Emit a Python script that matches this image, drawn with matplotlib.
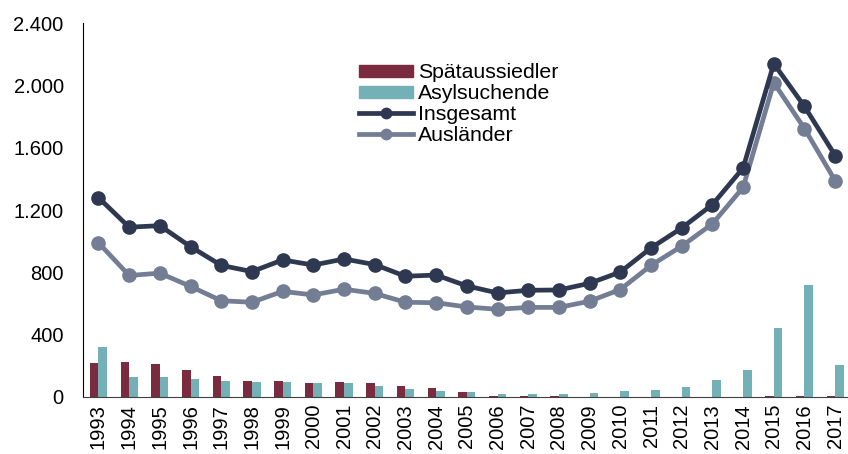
import numpy as np
import matplotlib.pyplot as plt
from matplotlib.patches import Patch
from matplotlib.lines import Line2D

plt.rcParams['font.family'] = ['Liberation Sans', 'DejaVu Sans']

years = [str(y) for y in range(1993, 2018)]
spaetaussiedler = [218, 222, 212, 175, 134, 103, 103, 92, 98, 91, 73, 59, 35,
                   8, 6, 4, 3, 2, 2, 2, 2, 2, 4, 6, 7]
asylsuchende = [322, 127, 128, 116, 104, 99, 95, 88, 88, 71, 50, 36, 29,
                21, 19, 22, 28, 41, 45, 64, 110, 173, 442, 722, 203]
insgesamt = [1280, 1090, 1100, 965, 845, 805, 880, 847, 886, 850, 775, 783, 713,
             668, 685, 687, 730, 802, 957, 1085, 1235, 1470, 2140, 1865, 1550]
auslaender = [990, 780, 795, 710, 618, 608, 678, 655, 692, 665, 608, 605, 578,
              563, 575, 575, 615, 690, 845, 968, 1112, 1345, 2018, 1723, 1388]

c_red = '#7b2b40'
c_teal = '#73b1b7'
c_navy = '#2e3850'
c_grey = '#737d93'

fig = plt.figure(figsize=(8.48, 4.54), dpi=100)
ax = fig.add_axes([0.098, 0.1256, 0.905, 0.8234])

x = np.arange(len(years))
w = 0.28
ax.bar(x - w / 2, spaetaussiedler, w, color=c_red, zorder=2)
ax.bar(x + w / 2, asylsuchende, w, color=c_teal, zorder=2)
ax.plot(x, insgesamt, color=c_navy, lw=3.4, marker='o', ms=9.5, zorder=4)
ax.plot(x, auslaender, color=c_grey, lw=3.4, marker='o', ms=9.5, zorder=3)

ax.set_xlim(-0.5, len(years) - 0.5)
ax.set_ylim(0, 2400)
ax.set_yticks(range(0, 2401, 400))
ax.set_yticklabels(['0', '400', '800', '1.200', '1.600', '2.000', '2.400'], fontsize=14.5)
ax.set_xticks(x)
ax.set_xticklabels(years, rotation=90, fontsize=14.5)
ax.tick_params(axis='y', length=0, pad=14)
ax.tick_params(axis='x', length=0, pad=5)

for s in ['top', 'right']:
    ax.spines[s].set_visible(False)
ax.spines['left'].set_color('black')
ax.spines['bottom'].set_color('#404040')

handles = [Patch(color=c_red), Patch(color=c_teal),
           Line2D([], [], color=c_navy, lw=3.4, marker='o', ms=7.5),
           Line2D([], [], color=c_grey, lw=3.4, marker='o', ms=7.5)]
labels = ['Spätaussiedler', 'Asylsuchende', 'Insgesamt', 'Ausländer']
ax.legend(handles, labels, loc='upper left', bbox_to_anchor=(0.349, 0.915),
          frameon=False, fontsize=15.3, handlelength=2.5, handleheight=0.5,
          labelspacing=0.08, handletextpad=0.25, borderaxespad=0)

fig.savefig('out.png', dpi=100)
